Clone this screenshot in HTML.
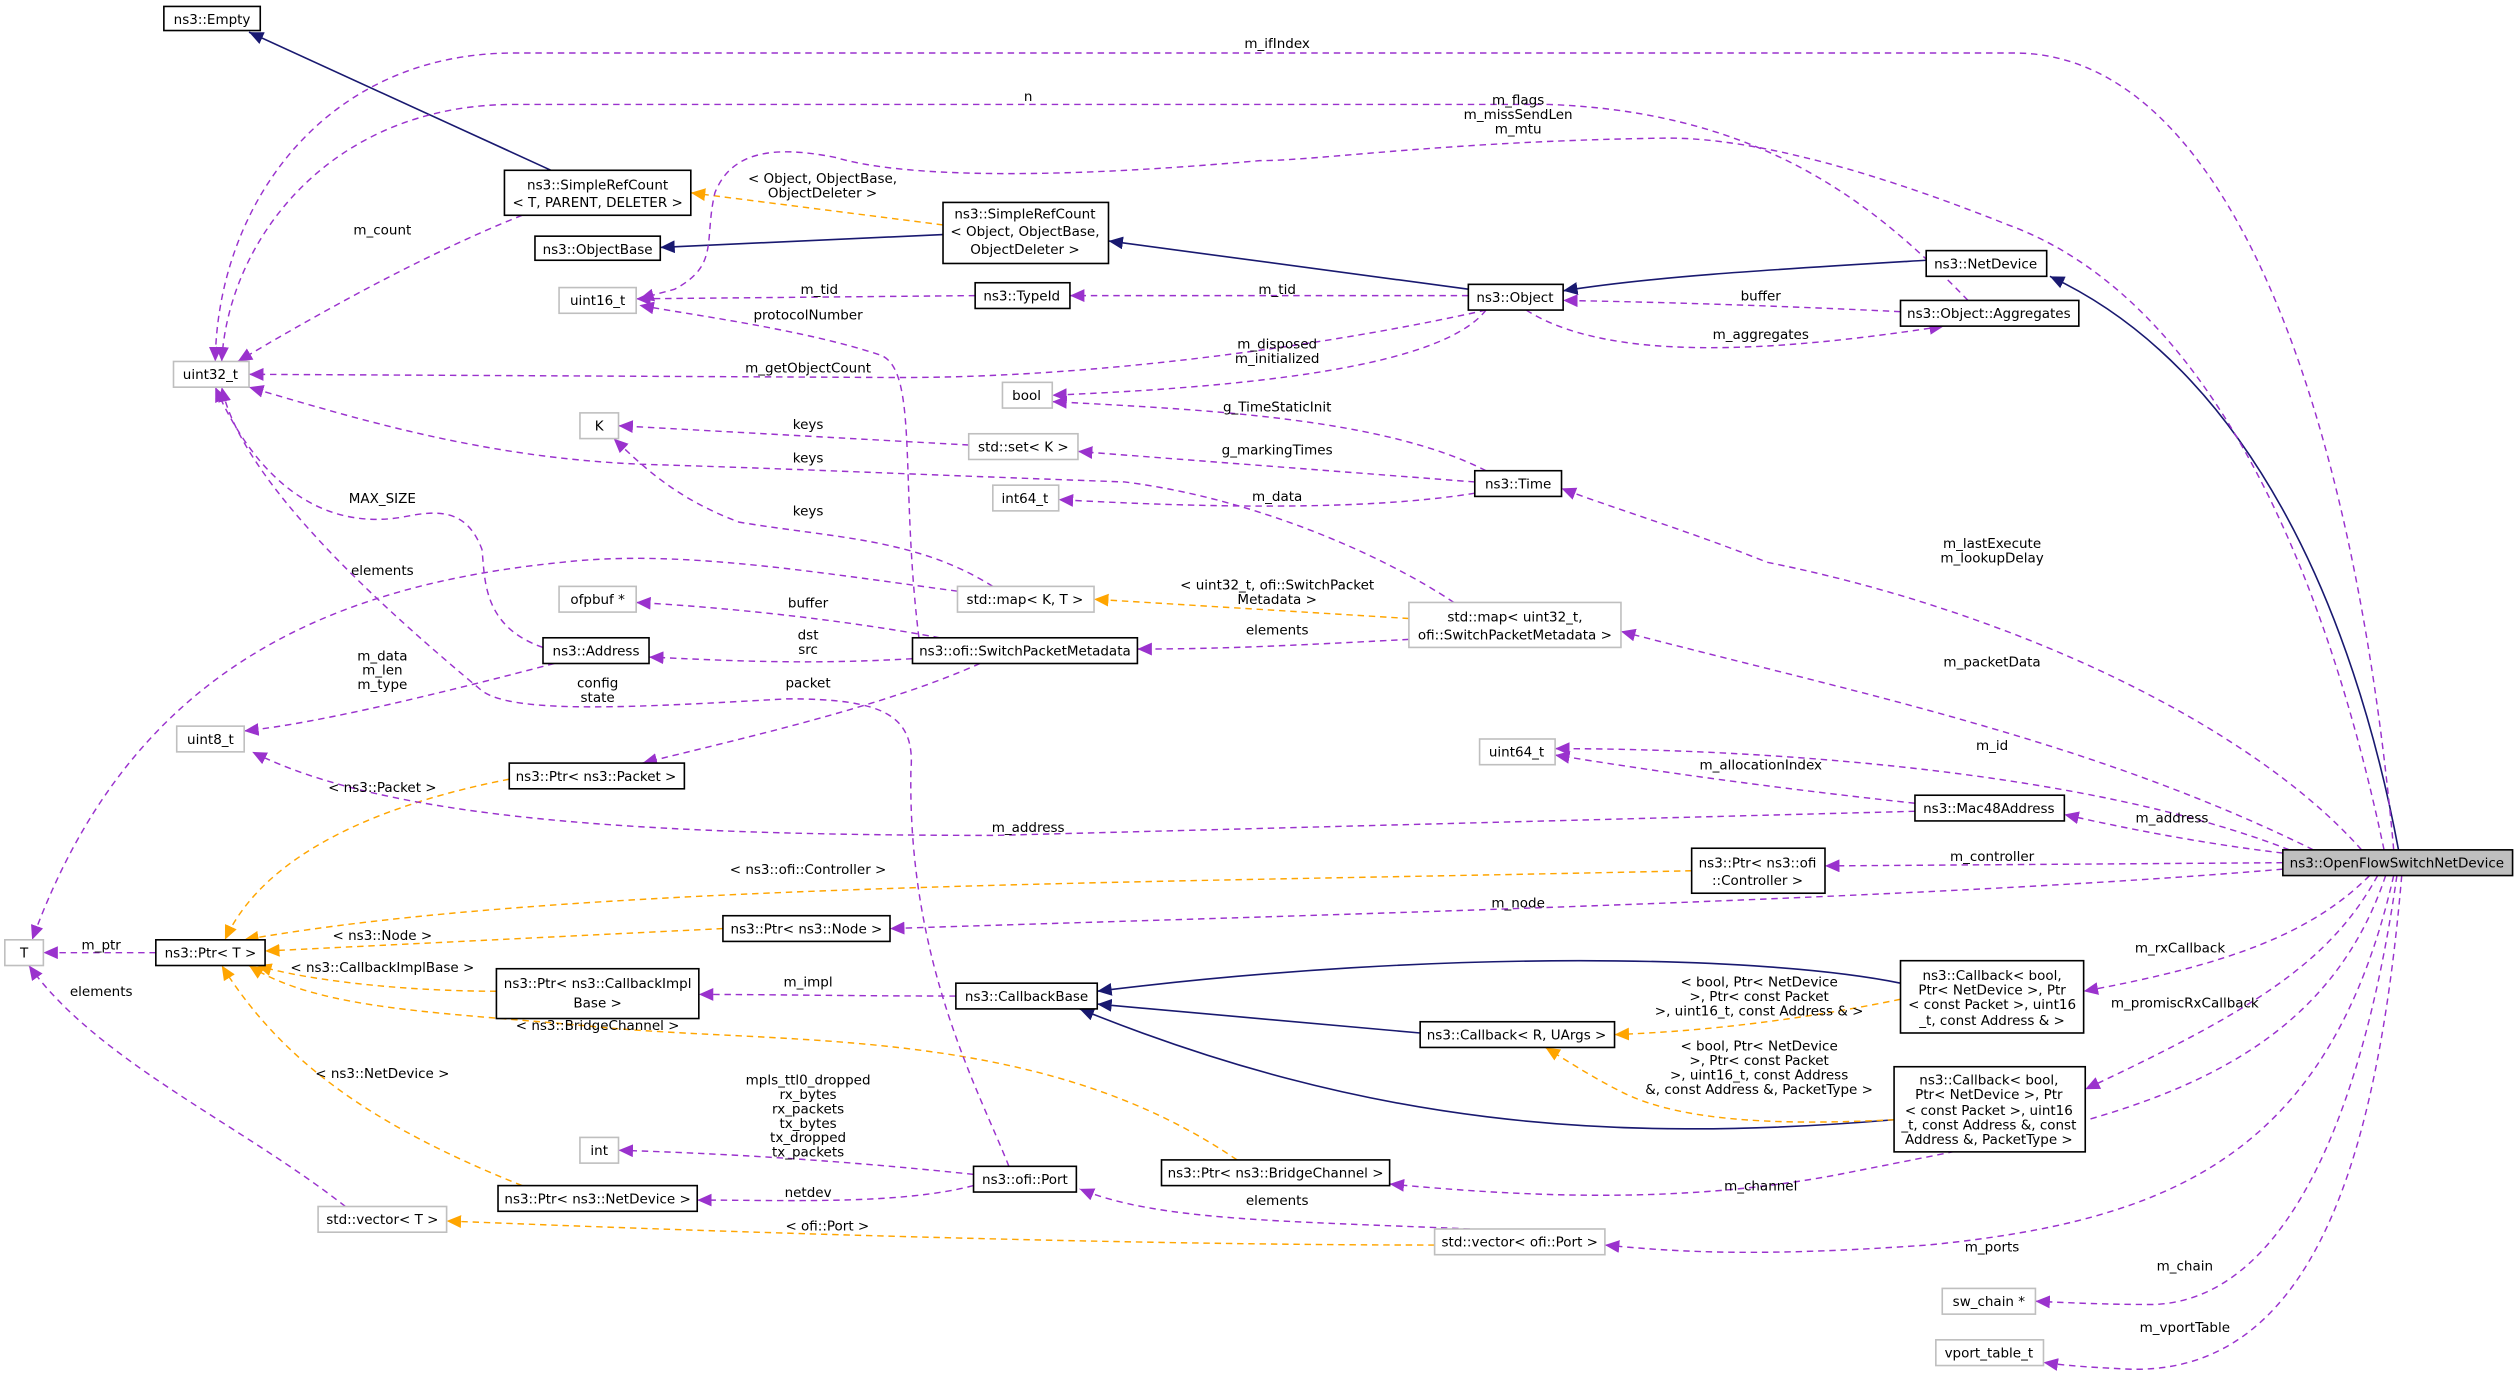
<!DOCTYPE html>
<html><head><meta charset="utf-8"><style>
html,body{margin:0;padding:0;background:#fff;}
svg{display:block;}
text{font-family:"DejaVu Sans","Liberation Sans",sans-serif;font-size:8.4px;fill:#000;}
.n{fill:#fff;stroke:#000;stroke-width:1;}
.g{fill:#fff;stroke:#bfbfbf;stroke-width:1;}
.p{fill:none;stroke:#9a32cd;stroke-width:0.9;stroke-dasharray:4,3;}
.o{fill:none;stroke:#ffa500;stroke-width:0.9;stroke-dasharray:4,3;}
.b{fill:none;stroke:#191970;stroke-width:1;}
</style></head><body>
<svg width="2519" height="1380" viewBox="0 0 1568 859" xmlns="http://www.w3.org/2000/svg">
<defs>
<marker id="mp" markerUnits="userSpaceOnUse" markerWidth="10" markerHeight="8" refX="9" refY="4" orient="auto"><path d="M0,0 L9,4 L0,8 z" fill="#9a32cd"/></marker>
<marker id="mo" markerUnits="userSpaceOnUse" markerWidth="10" markerHeight="8" refX="9" refY="4" orient="auto"><path d="M0,0 L9,4 L0,8 z" fill="#ffa500"/></marker>
<marker id="mb" markerUnits="userSpaceOnUse" markerWidth="10" markerHeight="8" refX="9" refY="4" orient="auto"><path d="M0,0 L9,4 L0,8 z" fill="#191970"/></marker>
</defs>

<path class="b" marker-end="url(#mb)" d="M343,106 L155,20"/>
<path class="b" marker-end="url(#mb)" d="M587,146 L411,154"/>
<path class="b" marker-end="url(#mb)" d="M914,180 L690,150"/>
<path class="b" marker-end="url(#mb)" d="M1199,162 C1100,168 1030,172 973,181"/>
<path class="b" marker-end="url(#mb)" d="M1493,529 C1465,380 1400,230 1276,172"/>
<path class="b" marker-end="url(#mb)" d="M884,643 L683,625"/>
<path class="b" marker-end="url(#mb)" d="M1183,612 C1100,595 900,590 683,617"/>
<path class="b" marker-end="url(#mb)" d="M1179,697 C1000,712 850,700 672,628"/>

<path class="o" marker-end="url(#mo)" d="M587,140 L430,120"/>
<path class="o" marker-end="url(#mo)" d="M877,385 L681,373"/>
<path class="o" marker-end="url(#mo)" d="M1183,622 C1120,635 1060,642 1005,644"/>
<path class="o" marker-end="url(#mo)" d="M1179,697 C1120,700 1050,700 1010,680 C990,670 975,660 962,652"/>
<path class="o" marker-end="url(#mo)" d="M317,485 C240,500 165,530 140,585"/>
<path class="o" marker-end="url(#mo)" d="M1053,542 C700,550 350,550 152,585"/>
<path class="o" marker-end="url(#mo)" d="M450,578 L165,592"/>
<path class="o" marker-end="url(#mo)" d="M309,617 C250,617 190,610 160,601"/>
<path class="o" marker-end="url(#mo)" d="M770,722 C650,640 500,650 380,640 C280,630 200,630 155,601"/>
<path class="o" marker-end="url(#mo)" d="M325,738 C230,700 175,660 138,601"/>
<path class="o" marker-end="url(#mo)" d="M893,775 C700,775 450,767 278,760"/>

<path class="p" marker-end="url(#mp)" d="M1490,529 C1465,250 1385,33 1254,33 L320,33 C200,33 135,130 134,225"/>
<path class="p" marker-end="url(#mp)" d="M1225,187 C1170,130 1100,70 964,65 L320,65 C205,65 142,150 138,225"/>
<path class="p" marker-end="url(#mp)" d="M1484,529 C1440,320 1360,180 1250,140 C1150,100 1080,85 1034,86 C900,88 820,100 784,100 C650,112 560,110 520,98 C480,90 455,95 445,120 C438,150 448,165 420,180 L398,186"/>
<path class="p" marker-end="url(#mp)" d="M325,134 C260,160 190,200 148,225"/>
<path class="p" marker-end="url(#mp)" d="M607,184 L396,186"/>
<path class="p" marker-end="url(#mp)" d="M914,184 L666,184"/>
<path class="p" marker-end="url(#mp)" d="M572,397 C560,300 572,230 548,221 C500,205 430,196 398,190"/>
<path class="p" marker-end="url(#mp)" d="M925,193 C850,210 700,235 560,235 L155,233"/>
<path class="p" marker-end="url(#mp)" d="M925,193 C900,225 800,240 655,246"/>
<path class="p" marker-end="url(#mp)" d="M925,293 C860,260 750,255 655,250"/>
<path class="p" marker-end="url(#mp)" d="M918,300 L671,281"/>
<path class="p" marker-end="url(#mp)" d="M918,307 C850,318 750,316 659,311"/>
<path class="p" marker-end="url(#mp)" d="M603,277 L385,265"/>
<path class="p" marker-end="url(#mp)" d="M905,375 C860,345 780,310 700,300 C560,295 500,292 400,289 C300,285 220,260 155,241"/>
<path class="p" marker-end="url(#mp)" d="M618,365 C570,335 520,335 460,325 C420,310 400,290 382,273"/>
<path class="p" marker-end="url(#mp)" d="M338,403 C300,390 302,360 300,342 C290,315 270,318 250,322 C200,330 160,300 134,241"/>
<path class="p" marker-end="url(#mp)" d="M596,368 C500,355 420,342 350,350 C200,365 80,420 20,585"/>
<path class="p" marker-end="url(#mp)" d="M585,397 C520,385 450,378 396,375"/>
<path class="p" marker-end="url(#mp)" d="M1183,194 C1100,190 1030,188 973,187"/>
<path class="p" marker-end="url(#mp)" d="M950,193 C1000,225 1100,220 1210,203"/>
<path class="p" marker-end="url(#mp)" d="M568,410 C500,414 450,411 404,409"/>
<path class="p" marker-end="url(#mp)" d="M877,398 C800,402 760,404 708,404"/>
<path class="p" marker-end="url(#mp)" d="M345,413 C280,430 200,450 152,455"/>
<path class="p" marker-end="url(#mp)" d="M628,726 C610,680 565,600 567,480 C570,445 550,435 490,435 C400,440 320,445 300,430 C240,380 150,300 138,241"/>
<path class="p" marker-end="url(#mp)" d="M610,413 C550,440 460,460 400,475"/>
<path class="p" marker-end="url(#mp)" d="M1192,505 L620,520 C400,520 240,510 157,468"/>
<path class="p" marker-end="url(#mp)" d="M97,593 L27,593"/>
<path class="p" marker-end="url(#mp)" d="M215,751 C150,700 60,660 18,601"/>
<path class="p" marker-end="url(#mp)" d="M595,620 C530,620 480,619 435,619"/>
<path class="p" marker-end="url(#mp)" d="M606,731 C520,722 450,718 385,716"/>
<path class="p" marker-end="url(#mp)" d="M606,738 C560,750 490,747 434,747"/>
<path class="p" marker-end="url(#mp)" d="M915,765 C800,760 720,760 672,740"/>
<path class="p" marker-end="url(#mp)" d="M1470,529 C1400,450 1250,380 1100,350 C1050,330 1000,315 972,304"/>
<path class="p" marker-end="url(#mp)" d="M1440,529 C1300,460 1150,430 1009,393"/>
<path class="p" marker-end="url(#mp)" d="M1425,529 C1300,480 1100,466 968,466"/>
<path class="p" marker-end="url(#mp)" d="M1192,500 C1100,490 1030,480 968,470"/>
<path class="p" marker-end="url(#mp)" d="M1421,531 C1370,525 1320,515 1285,507"/>
<path class="p" marker-end="url(#mp)" d="M1421,537 L1136,539"/>
<path class="p" marker-end="url(#mp)" d="M1421,541 C1200,560 800,570 554,578"/>
<path class="p" marker-end="url(#mp)" d="M1475,545 C1440,580 1390,600 1297,617"/>
<path class="p" marker-end="url(#mp)" d="M1480,545 C1450,600 1400,630 1298,678"/>
<path class="p" marker-end="url(#mp)" d="M1485,545 C1440,680 1300,700 1150,730 C1050,750 950,745 865,737"/>
<path class="p" marker-end="url(#mp)" d="M1490,545 C1450,720 1350,760 1200,775 C1100,782 1050,780 999,775"/>
<path class="p" marker-end="url(#mp)" d="M1492,545 C1470,700 1420,810 1340,812 C1310,812 1290,811 1267,810"/>
<path class="p" marker-end="url(#mp)" d="M1495,545 C1480,720 1440,860 1320,852 C1300,851 1285,850 1272,848"/>

<g>
<rect class="n" x="102" y="4" width="60" height="15"/><text x="132" y="15" text-anchor="middle">ns3::Empty</text>
<rect class="n" x="314" y="106" width="116" height="28"/><text x="372" y="118" text-anchor="middle">ns3::SimpleRefCount</text><text x="372" y="129" text-anchor="middle">&lt; T, PARENT, DELETER &gt;</text>
<rect class="n" x="333" y="147" width="78" height="15"/><text x="372" y="158" text-anchor="middle">ns3::ObjectBase</text>
<rect class="n" x="587" y="126" width="103" height="38"/><text x="638" y="136" text-anchor="middle">ns3::SimpleRefCount</text><text x="638" y="147" text-anchor="middle">&lt; Object, ObjectBase,</text><text x="638" y="158" text-anchor="middle">ObjectDeleter &gt;</text>
<rect class="g" x="348" y="179" width="48" height="16"/><text x="372" y="190" text-anchor="middle">uint16_t</text>
<rect class="n" x="607" y="176" width="59" height="16"/><text x="636" y="187" text-anchor="middle">ns3::TypeId</text>
<rect class="n" x="914" y="177" width="59" height="16"/><text x="943" y="188" text-anchor="middle">ns3::Object</text>
<rect class="n" x="1199" y="156" width="75" height="16"/><text x="1236" y="167" text-anchor="middle">ns3::NetDevice</text>
<rect class="n" x="1183" y="187" width="111" height="16"/><text x="1238" y="198" text-anchor="middle">ns3::Object::Aggregates</text>
<rect class="g" x="108" y="225" width="47" height="16"/><text x="131" y="236" text-anchor="middle">uint32_t</text>
<rect class="g" x="624" y="238" width="31" height="16"/><text x="639" y="249" text-anchor="middle">bool</text>
<rect class="g" x="361" y="257" width="24" height="16"/><text x="373" y="268" text-anchor="middle">K</text>
<rect class="g" x="603" y="270" width="68" height="16"/><text x="637" y="281" text-anchor="middle">std::set&lt; K &gt;</text>
<rect class="n" x="918" y="293" width="54" height="16"/><text x="945" y="304" text-anchor="middle">ns3::Time</text>
<rect class="g" x="618" y="302" width="41" height="16"/><text x="638" y="313" text-anchor="middle">int64_t</text>
<rect class="g" x="348" y="365" width="48" height="16"/><text x="372" y="376" text-anchor="middle">ofpbuf *</text>
<rect class="g" x="596" y="365" width="85" height="16"/><text x="638" y="376" text-anchor="middle">std::map&lt; K, T &gt;</text>
<rect class="g" x="877" y="375" width="132" height="28"/><text x="943" y="387" text-anchor="middle">std::map&lt; uint32_t,</text><text x="943" y="398" text-anchor="middle">ofi::SwitchPacketMetadata &gt;</text>
<rect class="n" x="338" y="397" width="66" height="16"/><text x="371" y="408" text-anchor="middle">ns3::Address</text>
<rect class="n" x="568" y="397" width="140" height="16"/><text x="638" y="408" text-anchor="middle">ns3::ofi::SwitchPacketMetadata</text>
<rect class="g" x="110" y="452" width="42" height="16"/><text x="131" y="463" text-anchor="middle">uint8_t</text>
<rect class="n" x="317" y="475" width="109" height="16"/><text x="371" y="486" text-anchor="middle">ns3::Ptr&lt; ns3::Packet &gt;</text>
<rect class="g" x="921" y="460" width="47" height="16"/><text x="944" y="471" text-anchor="middle">uint64_t</text>
<rect class="n" x="1192" y="495" width="93" height="16"/><text x="1238" y="506" text-anchor="middle">ns3::Mac48Address</text>
<rect class="n" x="1053" y="528" width="83" height="28"/><text x="1094" y="540" text-anchor="middle">ns3::Ptr&lt; ns3::ofi</text><text x="1094" y="551" text-anchor="middle">::Controller &gt;</text>
<rect x="1421" y="529" width="143" height="16" fill="#bfbfbf" stroke="#000"/><text x="1492" y="540" text-anchor="middle">ns3::OpenFlowSwitchNetDevice</text>
<rect class="g" x="3" y="585" width="24" height="16"/><text x="15" y="596" text-anchor="middle">T</text>
<rect class="n" x="97" y="585" width="68" height="16"/><text x="131" y="596" text-anchor="middle">ns3::Ptr&lt; T &gt;</text>
<rect class="n" x="450" y="570" width="104" height="16"/><text x="502" y="581" text-anchor="middle">ns3::Ptr&lt; ns3::Node &gt;</text>
<rect class="n" x="309" y="603" width="126" height="31"/><text x="372" y="615" text-anchor="middle">ns3::Ptr&lt; ns3::CallbackImpl</text><text x="372" y="627" text-anchor="middle">Base &gt;</text>
<rect class="n" x="595" y="612" width="88" height="16"/><text x="639" y="623" text-anchor="middle">ns3::CallbackBase</text>
<rect class="n" x="884" y="636" width="121" height="16"/><text x="944" y="647" text-anchor="middle">ns3::Callback&lt; R, UArgs &gt;</text>
<rect class="n" x="1183" y="598" width="114" height="45"/><text x="1240" y="610" text-anchor="middle">ns3::Callback&lt; bool,</text><text x="1240" y="619" text-anchor="middle">Ptr&lt; NetDevice &gt;, Ptr</text><text x="1240" y="628" text-anchor="middle">&lt; const Packet &gt;, uint16</text><text x="1240" y="638" text-anchor="middle">_t, const Address &amp; &gt;</text>
<rect class="n" x="1179" y="664" width="119" height="53"/><text x="1238" y="675" text-anchor="middle">ns3::Callback&lt; bool,</text><text x="1238" y="684" text-anchor="middle">Ptr&lt; NetDevice &gt;, Ptr</text><text x="1238" y="694" text-anchor="middle">&lt; const Packet &gt;, uint16</text><text x="1238" y="703" text-anchor="middle">_t, const Address &amp;, const</text><text x="1238" y="712" text-anchor="middle">Address &amp;, PacketType &gt;</text>
<rect class="g" x="361" y="708" width="24" height="16"/><text x="373" y="719" text-anchor="middle">int</text>
<rect class="n" x="310" y="738" width="124" height="16"/><text x="372" y="749" text-anchor="middle">ns3::Ptr&lt; ns3::NetDevice &gt;</text>
<rect class="n" x="606" y="726" width="64" height="16"/><text x="638" y="737" text-anchor="middle">ns3::ofi::Port</text>
<rect class="n" x="723" y="722" width="142" height="16"/><text x="794" y="733" text-anchor="middle">ns3::Ptr&lt; ns3::BridgeChannel &gt;</text>
<rect class="g" x="198" y="751" width="80" height="16"/><text x="238" y="762" text-anchor="middle">std::vector&lt; T &gt;</text>
<rect class="g" x="893" y="765" width="106" height="16"/><text x="946" y="776" text-anchor="middle">std::vector&lt; ofi::Port &gt;</text>
<rect class="g" x="1209" y="802" width="58" height="16"/><text x="1238" y="813" text-anchor="middle">sw_chain *</text>
<rect class="g" x="1205" y="834" width="67" height="16"/><text x="1238" y="845" text-anchor="middle">vport_table_t</text>
</g>

<g text-anchor="middle">
<text x="795" y="30">m_ifIndex</text>
<text x="640" y="63">n</text>
<text x="945" y="65">m_flags</text><text x="945" y="74">m_missSendLen</text><text x="945" y="83">m_mtu</text>
<text x="512" y="114">&lt; Object, ObjectBase,</text><text x="512" y="123">ObjectDeleter &gt;</text>
<text x="238" y="146">m_count</text>
<text x="510" y="183">m_tid</text>
<text x="795" y="183">m_tid</text>
<text x="503" y="199">protocolNumber</text>
<text x="1096" y="187">buffer</text>
<text x="1096" y="211">m_aggregates</text>
<text x="795" y="217">m_disposed</text><text x="795" y="226">m_initialized</text>
<text x="503" y="232">m_getObjectCount</text>
<text x="795" y="256">g_TimeStaticInit</text>
<text x="503" y="267">keys</text>
<text x="795" y="283">g_markingTimes</text>
<text x="503" y="288">keys</text>
<text x="238" y="313">MAX_SIZE</text>
<text x="795" y="312">m_data</text>
<text x="503" y="321">keys</text>
<text x="1240" y="341">m_lastExecute</text><text x="1240" y="350">m_lookupDelay</text>
<text x="238" y="358">elements</text>
<text x="795" y="367">&lt; uint32_t, ofi::SwitchPacket</text><text x="795" y="376">Metadata &gt;</text>
<text x="503" y="378">buffer</text>
<text x="795" y="395">elements</text>
<text x="503" y="398">dst</text><text x="503" y="407">src</text>
<text x="238" y="411">m_data</text><text x="238" y="420">m_len</text><text x="238" y="429">m_type</text>
<text x="372" y="428">config</text><text x="372" y="437">state</text>
<text x="503" y="428">packet</text>
<text x="1240" y="415">m_packetData</text>
<text x="1240" y="467">m_id</text>
<text x="1096" y="479">m_allocationIndex</text>
<text x="238" y="493">&lt; ns3::Packet &gt;</text>
<text x="1352" y="512">m_address</text>
<text x="640" y="518">m_address</text>
<text x="1240" y="536">m_controller</text>
<text x="503" y="544">&lt; ns3::ofi::Controller &gt;</text>
<text x="945" y="565">m_node</text>
<text x="238" y="585">&lt; ns3::Node &gt;</text>
<text x="63" y="591">m_ptr</text>
<text x="1357" y="593">m_rxCallback</text>
<text x="238" y="605">&lt; ns3::CallbackImplBase &gt;</text>
<text x="503" y="614">m_impl</text>
<text x="1095" y="614">&lt; bool, Ptr&lt; NetDevice</text><text x="1095" y="623">&gt;, Ptr&lt; const Packet</text><text x="1095" y="632">&gt;, uint16_t, const Address &amp; &gt;</text>
<text x="63" y="620">elements</text>
<text x="1360" y="627">m_promiscRxCallback</text>
<text x="372" y="641">&lt; ns3::BridgeChannel &gt;</text>
<text x="1095" y="654">&lt; bool, Ptr&lt; NetDevice</text><text x="1095" y="663">&gt;, Ptr&lt; const Packet</text><text x="1095" y="672">&gt;, uint16_t, const Address</text><text x="1095" y="681">&amp;, const Address &amp;, PacketType &gt;</text>
<text x="238" y="671">&lt; ns3::NetDevice &gt;</text>
<text x="503" y="675">mpls_ttl0_dropped</text><text x="503" y="684">rx_bytes</text><text x="503" y="693">rx_packets</text><text x="503" y="702">tx_bytes</text><text x="503" y="711">tx_dropped</text><text x="503" y="720">tx_packets</text>
<text x="1096" y="741">m_channel</text>
<text x="503" y="745">netdev</text>
<text x="795" y="750">elements</text>
<text x="515" y="766">&lt; ofi::Port &gt;</text>
<text x="1240" y="779">m_ports</text>
<text x="1360" y="791">m_chain</text>
<text x="1360" y="829">m_vportTable</text>
</g>
</svg>
</body></html>
